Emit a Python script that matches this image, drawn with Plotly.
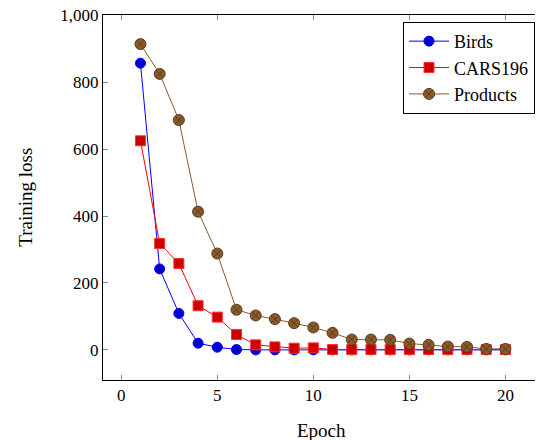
import plotly.graph_objects as go

epochs = list(range(1, 21))
birds = [857, 242, 109, 20, 8, 1, 0, 0, 0, 0, 0, 0, 0, 0, 0, 0, 0, 0, 0, 0]
cars196 = [625, 318, 258, 132, 98, 46, 15, 9, 5, 6, 1, 1, 1, 1, 1, 1, 1, 1, 1, 1]
products = [914, 825, 687, 413, 288, 120, 103, 92, 80, 67, 51, 31, 31, 30, 19, 15, 10, 9, 3, 3]

x_ticks = [0, 5, 10, 15, 20]
y_ticks = [0, 200, 400, 600, 800, 1000]

FONT = "Liberation Serif"

fig = go.Figure()
fig.add_trace(go.Scatter(
    x=epochs, y=birds, name="Birds", mode="lines+markers",
    line=dict(color="#0000ff", width=1),
    marker=dict(symbol="circle", size=10, color="#0000cc", line=dict(color="#0000ff", width=1)),
))
fig.add_trace(go.Scatter(
    x=epochs, y=cars196, name="CARS196", mode="lines+markers",
    line=dict(color="#ff0000", width=1),
    marker=dict(symbol="square", size=10, color="#cc0000", line=dict(color="#ff3030", width=1)),
))
fig.add_trace(go.Scatter(
    x=epochs, y=products, name="Products", mode="lines+markers",
    line=dict(color="#8a5a2e", width=1),
    marker=dict(symbol="circle-x", size=11, color="#8b5a2b", line=dict(color="#5c3b1c", width=1)),
))

axis_common = dict(
    showline=True, linecolor="black", linewidth=1, mirror="allticks",
    ticks="inside", ticklen=5, tickcolor="#888888", showgrid=False, zeroline=False,
    tickfont=dict(family=FONT, size=17, color="black"), automargin=False,
    ticklabeloverflow="allow",
)

fig.update_xaxes(range=[-0.95, 21.8], tickvals=x_ticks, **axis_common)
fig.update_yaxes(range=[-90, 1001], tickvals=y_ticks, tickformat=",d", **axis_common)

fig.add_annotation(text="Epoch", xref="paper", yref="paper", x=0.5, y=-0.105,
                   xanchor="center", yanchor="top", showarrow=False,
                   font=dict(family=FONT, size=19, color="black"))
fig.add_annotation(text="Training loss", xref="paper", yref="paper", x=-0.178, y=0.5,
                   xanchor="center", yanchor="middle", showarrow=False, textangle=-90,
                   font=dict(family=FONT, size=19, color="black"))

fig.update_layout(
    width=535, height=432,
    margin=dict(l=95, r=3, t=7, b=60, autoexpand=False),
    plot_bgcolor="white", paper_bgcolor="white",
    separators=".,",
    font=dict(family=FONT, size=17, color="black"),
    legend=dict(
        x=0.9886, y=0.981, xanchor="right", yanchor="top",
        bordercolor="black", borderwidth=1, bgcolor="white",
        font=dict(family=FONT, size=18, color="black"),
        itemwidth=40, tracegroupgap=0,
    ),
    showlegend=True,
)

fig.write_html("out.html")
